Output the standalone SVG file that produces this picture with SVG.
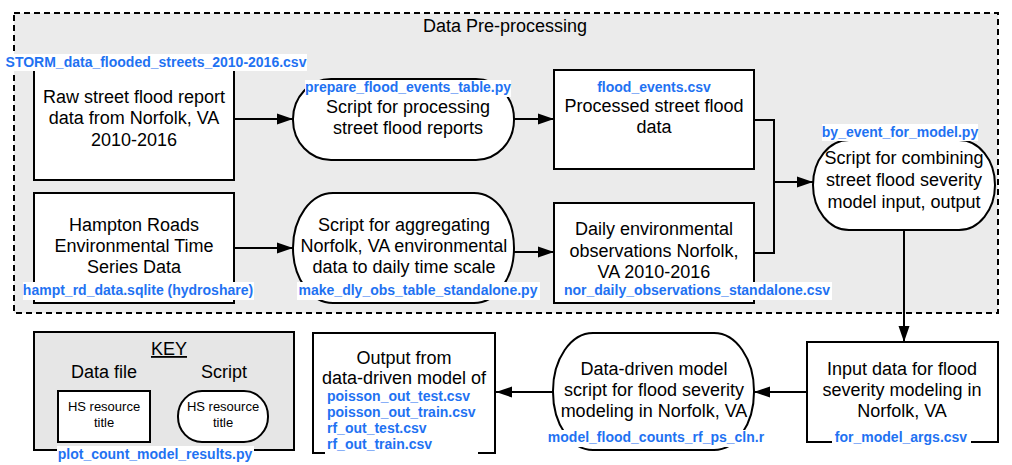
<svg xmlns="http://www.w3.org/2000/svg" width="1012" height="465" viewBox="0 0 1012 465">
<defs>
<style>
.t{font-family:"Liberation Sans",Arial,sans-serif;font-size:18px;fill:#000;text-anchor:middle}
.s{font-family:"Liberation Sans",Arial,sans-serif;font-size:13px;fill:#000;text-anchor:middle}
.b{font-family:"Liberation Sans",Arial,sans-serif;font-size:14px;font-weight:bold;fill:#1f72f2;text-anchor:middle}
.bl{font-family:"Liberation Sans",Arial,sans-serif;font-size:14px;font-weight:bold;fill:#1f72f2;text-anchor:start}
.n{fill:#fff;stroke:#000;stroke-width:2}
.lb{fill:#fff;stroke:none}
.c{fill:none;stroke:#000;stroke-width:2}
</style>
<marker id="ah" markerUnits="userSpaceOnUse" markerWidth="17" markerHeight="12" refX="16" refY="6" orient="auto">
<path d="M0,0.5 L16,6 L0,11.5 z" fill="#000"/>
</marker>
</defs>
<rect width="1012" height="465" fill="#fff"/>
<g id="preprocessing">
<rect x="14" y="13" width="984" height="300" fill="#ebebeb" stroke="#000" stroke-width="2" stroke-dasharray="6,4"/>
<text class="t" x="505" y="32">Data Pre-processing</text>
</g>
<g id="connectors">
<path class="c" d="M234,119 H293" marker-end="url(#ah)"/>
<path class="c" d="M514,119 H554" marker-end="url(#ah)"/>
<path class="c" d="M234,248 H293" marker-end="url(#ah)"/>
<path class="c" d="M514,252 H554" marker-end="url(#ah)"/>
<path class="c" d="M754,120 H774 V253 H754"/>
<path class="c" d="M774,182 H813" marker-end="url(#ah)"/>
<path class="c" d="M904,230 V342" marker-end="url(#ah)"/>
<path class="c" d="M807,392 H754" marker-end="url(#ah)"/>
<path class="c" d="M553,392 H496" marker-end="url(#ah)"/>
</g>
<g id="raw-reports">
<rect class="n" x="34" y="70" width="200" height="110"/>
<text class="t" x="134" y="103">Raw street flood report</text>
<text class="t" x="134" y="124">data from Norfolk, VA</text>
<text class="t" x="134" y="146">2010-2016</text>
<rect class="lb" x="5" y="54" width="302" height="17"/>
<text class="b" x="156" y="67">STORM_data_flooded_streets_2010-2016.csv</text>
</g>
<g id="prepare-script">
<rect class="n" x="293" y="79" width="221" height="81" rx="38" ry="40"/>
<text class="t" x="408" y="113">Script for processing</text>
<text class="t" x="408" y="134">street flood reports</text>
<rect class="lb" x="305" y="80" width="206" height="17"/>
<text class="b" x="408" y="92">prepare_flood_events_table.py</text>
</g>
<g id="flood-events">
<rect class="n" x="554" y="70" width="200" height="99"/>
<text class="b" x="654" y="92">flood_events.csv</text>
<text class="t" x="654" y="112">Processed street flood</text>
<text class="t" x="654" y="133">data</text>
</g>
<g id="combine-script">
<rect class="n" x="813" y="140" width="182" height="90" rx="36" ry="45"/>
<text class="t" x="904" y="164">Script for combining</text>
<text class="t" x="904" y="186">street flood severity</text>
<text class="t" x="904" y="208">model input, output</text>
<rect class="lb" x="822" y="124" width="156" height="17"/>
<text class="b" x="900" y="137">by_event_for_model.py</text>
</g>
<g id="hampton-roads">
<rect class="n" x="34" y="193" width="200" height="110"/>
<text class="t" x="134" y="231">Hampton Roads</text>
<text class="t" x="134" y="252">Environmental Time</text>
<text class="t" x="134" y="273">Series Data</text>
<rect class="lb" x="23" y="282" width="231" height="18"/>
<text class="b" x="138" y="295">hampt_rd_data.sqlite (hydroshare)</text>
</g>
<g id="aggregate-script">
<rect class="n" x="293" y="193" width="221" height="110" rx="40" ry="55"/>
<text class="t" x="404" y="231">Script for aggregating</text>
<text class="t" x="404" y="252">Norfolk, VA environmental</text>
<text class="t" x="404" y="273">data to daily time scale</text>
<rect class="lb" x="297" y="282" width="243" height="18"/>
<text class="b" x="418" y="295">make_dly_obs_table_standalone.py</text>
</g>
<g id="daily-observations">
<rect class="n" x="554" y="203" width="200" height="100"/>
<text class="t" x="654" y="235">Daily environmental</text>
<text class="t" x="654" y="257">observations Norfolk,</text>
<text class="t" x="654" y="278">VA 2010-2016</text>
<rect class="lb" x="563" y="282" width="269" height="18"/>
<text class="b" x="697" y="295">nor_daily_observations_standalone.csv</text>
</g>
<g id="model-input">
<rect class="n" x="807" y="342" width="191" height="100"/>
<text class="t" x="902" y="375">Input data for flood</text>
<text class="t" x="902" y="396">severity modeling in</text>
<text class="t" x="902" y="417">Norfolk, VA</text>
<rect class="lb" x="832" y="430" width="139" height="17"/>
<text class="b" x="901" y="442">for_model_args.csv</text>
</g>
<g id="model-script">
<rect class="n" x="553" y="333" width="201" height="117" rx="40" ry="58"/>
<text class="t" x="654" y="375">Data-driven model</text>
<text class="t" x="654" y="396">script for flood severity</text>
<text class="t" x="654" y="417">modeling in Norfolk, VA</text>
<rect class="lb" x="546" y="430" width="220" height="17"/>
<text class="b" x="656" y="442">model_flood_counts_rf_ps_cln.r</text>
</g>
<g id="model-output">
<rect class="n" x="313" y="333" width="182" height="120"/>
<text class="t" x="404" y="364">Output from</text>
<text class="t" x="404" y="384">data-driven model of</text>
<rect class="lb" x="325" y="388" width="153" height="67"/>
<text class="bl" x="327" y="401">poisson_out_test.csv</text>
<text class="bl" x="327" y="417">poisson_out_train.csv</text>
<text class="bl" x="327" y="433">rf_out_test.csv</text>
<text class="bl" x="327" y="449">rf_out_train.csv</text>
</g>
<g id="key">
<rect x="34" y="332" width="260" height="118" fill="#e6e6e6" stroke="#000" stroke-width="2"/>
<text class="t" x="169" y="355" text-decoration="underline">KEY</text>
<text class="t" x="104" y="378">Data file</text>
<text class="t" x="224" y="378">Script</text>
<rect class="n" x="58" y="391" width="92" height="51"/>
<text class="s" x="104" y="411">HS resource</text>
<text class="s" x="104" y="427">title</text>
<rect class="n" x="178" y="391" width="90" height="51" rx="24" ry="25"/>
<text class="s" x="223" y="411">HS resource</text>
<text class="s" x="223" y="427">title</text>
<rect class="lb" x="57" y="446" width="197" height="18"/>
<text class="b" x="155" y="459">plot_count_model_results.py</text>
</g>
</svg>
